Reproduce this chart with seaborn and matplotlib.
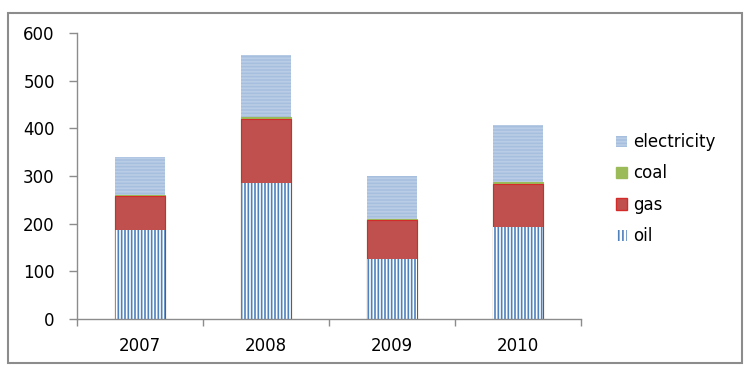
import pandas as pd
import numpy as np
import matplotlib.pyplot as plt
import seaborn as sns
from matplotlib.patches import Patch, Rectangle

# data
years = ["2007", "2008", "2009", "2010"]
oil = [186, 286, 125, 194]
gas = [73, 134, 82, 90]
coal = [1, 4, 3, 3]
electricity = [79, 130, 90, 121]

sns.set_style("white")
plt.rcParams["font.family"] = ["DejaVu Sans"]
plt.rcParams["hatch.linewidth"] = 1.2
plt.rcParams["text.color"] = "black"
plt.rcParams["xtick.labelcolor"] = "black"
plt.rcParams["ytick.labelcolor"] = "black"

df = pd.DataFrame({"year": years, "oil": oil, "gas": gas,
                   "coal": coal, "electricity": electricity})
# cumulative tops, drawn from the tallest down so each layer covers the next
df["c_oil"] = df["oil"]
df["c_gas"] = df["c_oil"] + df["gas"]
df["c_coal"] = df["c_gas"] + df["coal"]
df["c_elec"] = df["c_coal"] + df["electricity"]

fig = plt.figure(figsize=(7.54, 3.76), dpi=100)
ax = fig.add_axes([0.1021, 0.1516, 0.6685, 0.7606])

styles = [
    ("c_elec", "#A7BFDE", "#BACDE6", "-----", "electricity"),
    ("c_coal", "#9BBB59", "#9BBB59", None, "coal"),
    ("c_gas", "#C0504D", "#D42A2A", None, "gas"),
    ("c_oil", "#FFFFFF", "#4F81BD", "|||||", "oil"),
]
for col, face, edge, hatch, name in styles:
    lw = 0.0 if hatch else 0.8
    sns.barplot(data=df, x="year", y=col, color=face, saturation=1,
                width=0.39, edgecolor=edge, linewidth=lw, hatch=hatch, ax=ax)

ax.set_xlim(-0.5, 3.5)
ax.set_ylim(0, 600)
ax.set_yticks(np.arange(0, 601, 100))
ax.set_xlabel("")
ax.set_ylabel("")

gray = "#8C8C8C"
sns.despine(ax=ax)
for s in ["left", "bottom"]:
    ax.spines[s].set_color(gray)
    ax.spines[s].set_linewidth(1.0)
ax.tick_params(axis="y", length=6, color=gray, width=1, direction="out",
               labelsize=12, left=True, pad=10, labelcolor="black")
ax.tick_params(axis="x", which="major", length=0, labelsize=12, pad=13,
               labelcolor="black")
ax.set_xticks(np.arange(-0.5, 4.0, 1.0), minor=True)
ax.tick_params(axis="x", which="minor", length=5, color=gray, width=1,
               direction="out", bottom=True)

handles = [
    Patch(facecolor="#A7BFDE", edgecolor="#BACDE6", hatch="-----", linewidth=0, label="electricity"),
    Patch(facecolor="#9BBB59", edgecolor="#9BBB59", label="coal"),
    Patch(facecolor="#C0504D", edgecolor="#D42A2A", label="gas"),
    Patch(facecolor="#FFFFFF", edgecolor="#4F81BD", hatch="||||", linewidth=0, label="oil"),
]
fig.legend(handles=handles, loc="center left", bbox_to_anchor=(0.797, 0.497),
           frameon=False, fontsize=12, handlelength=0.65, handleheight=0.65,
           handletextpad=0.4, labelspacing=0.8, labelcolor="black")

# outer chart border
fig.patches.append(Rectangle((0.0106, 0.035), 0.973, 0.93, transform=fig.transFigure,
                             fill=False, edgecolor=gray, linewidth=1.5))

fig.savefig("out.png", dpi=100)
